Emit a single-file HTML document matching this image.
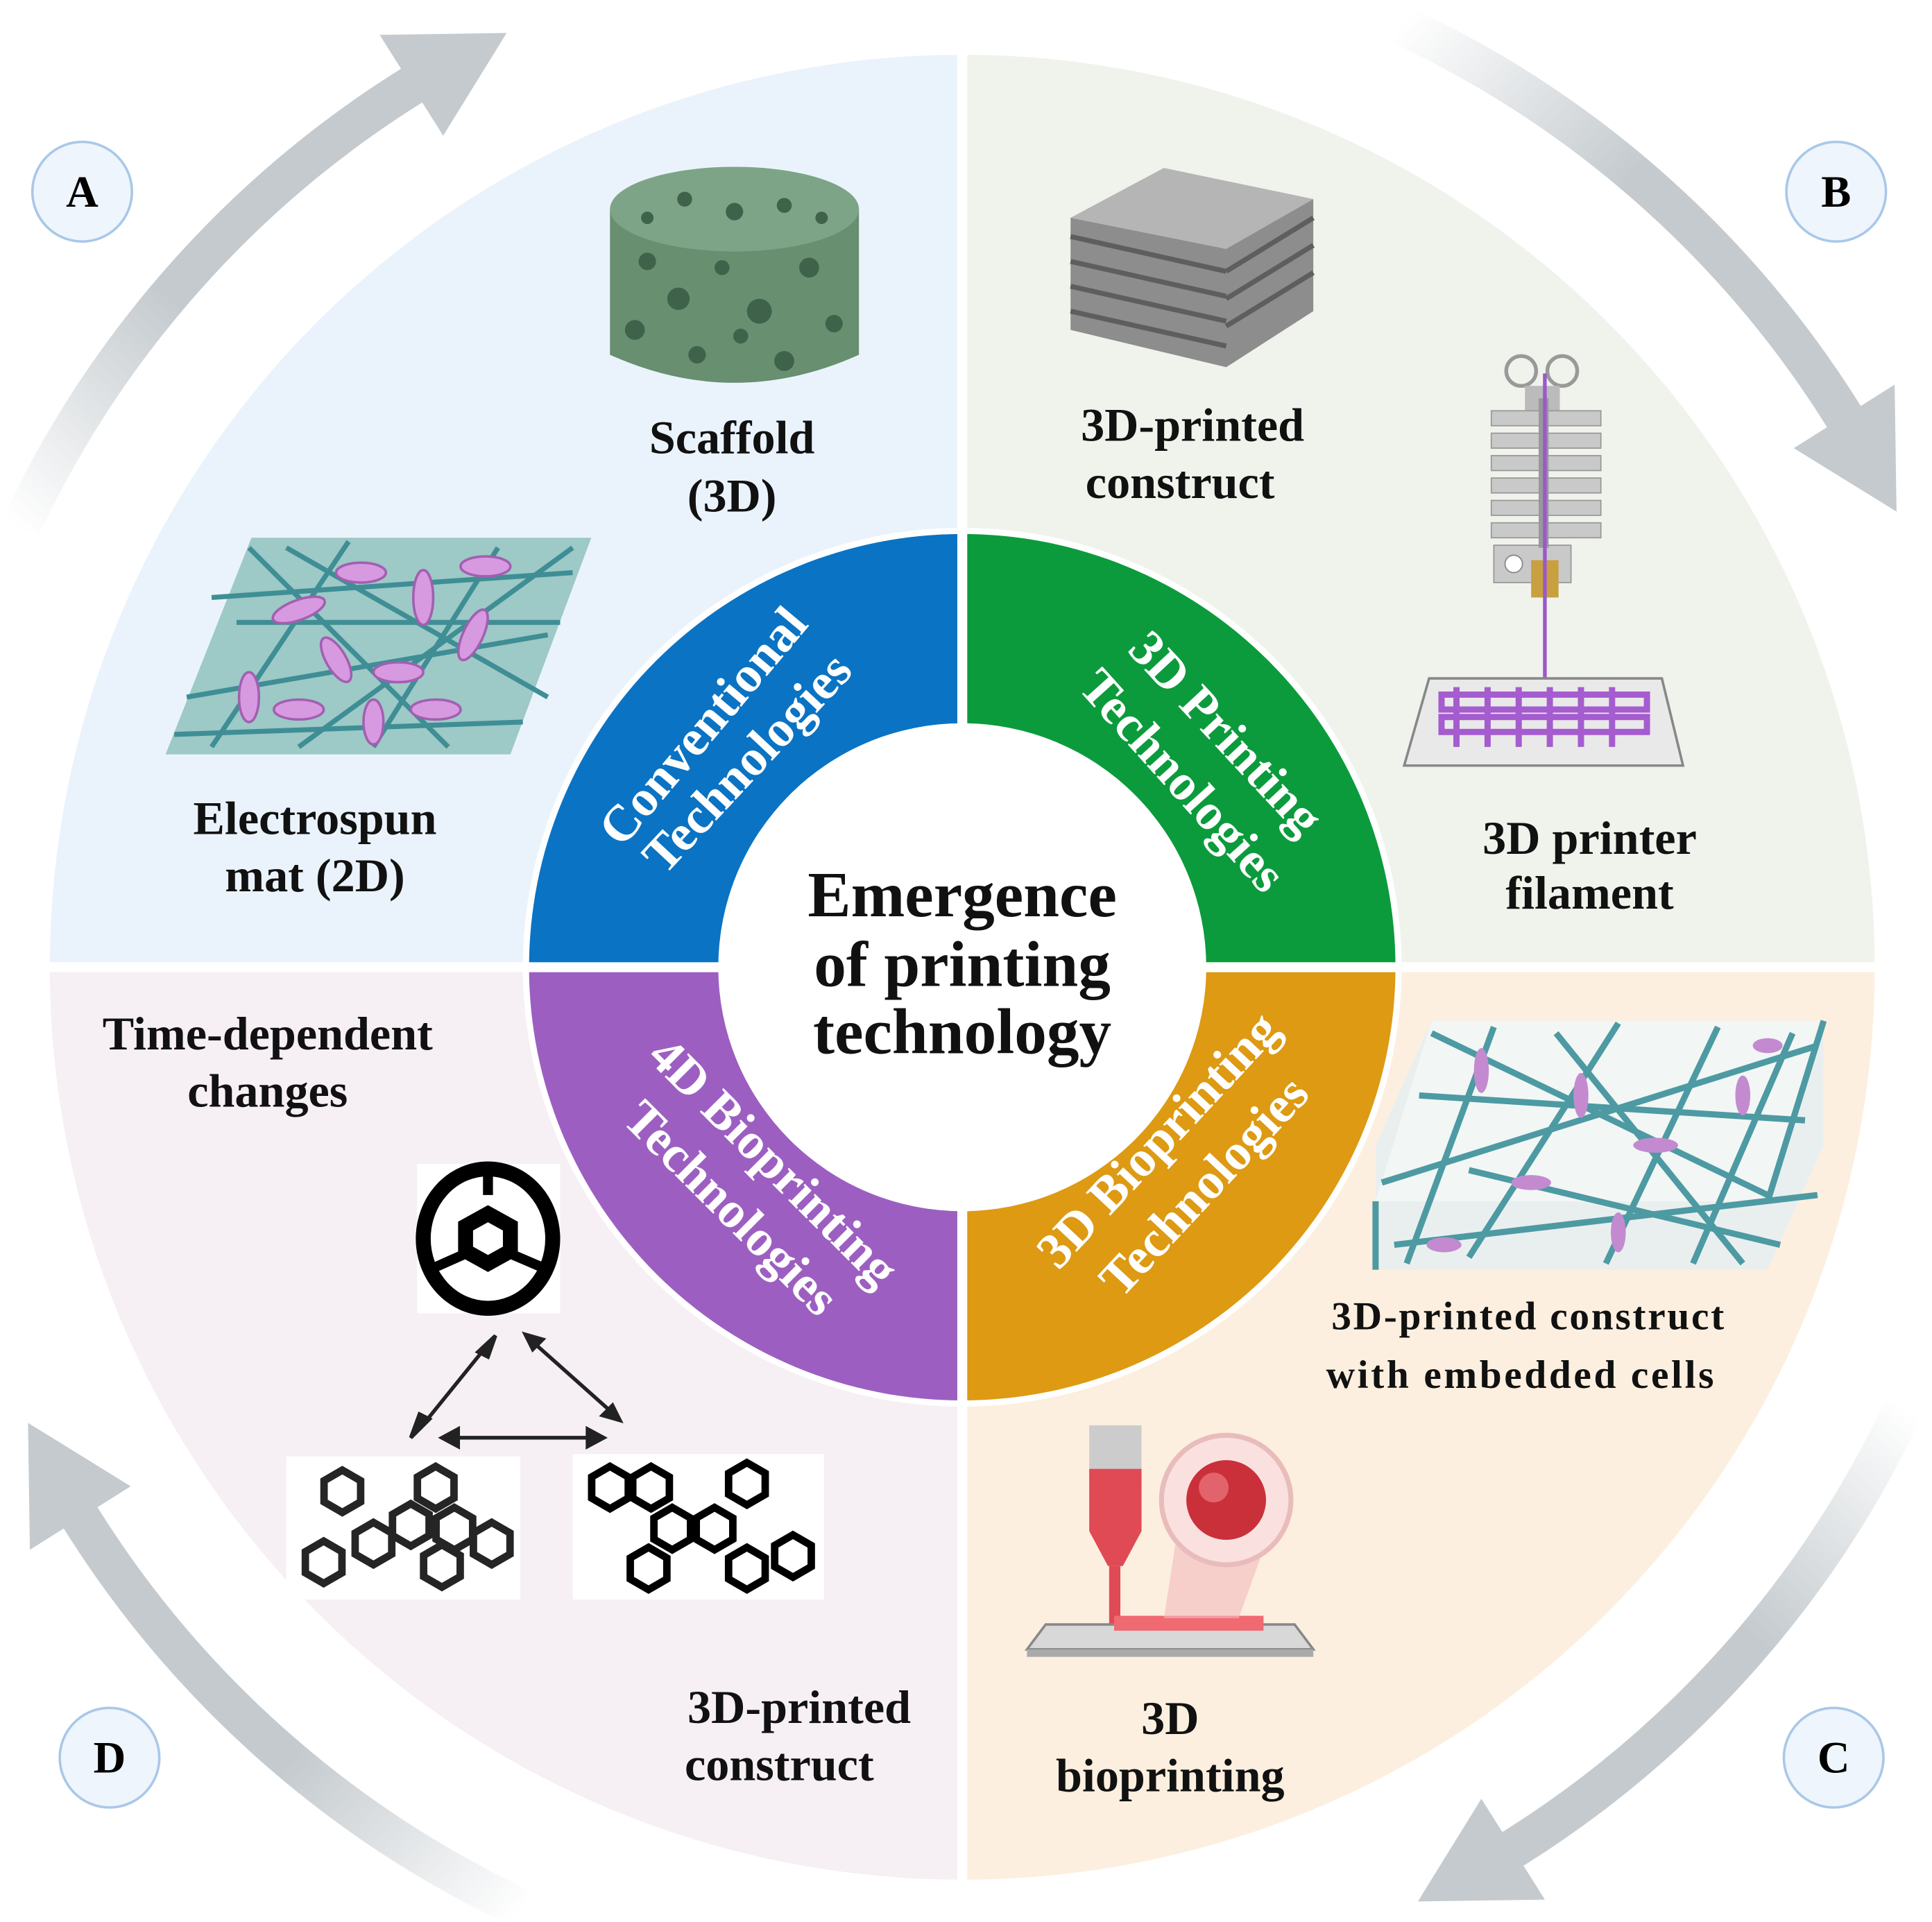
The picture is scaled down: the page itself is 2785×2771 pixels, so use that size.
<!DOCTYPE html>
<html><head><meta charset="utf-8"><style>
html,body{margin:0;padding:0;background:#fff;}
svg{display:block;}
text{font-family:"Liberation Serif",serif;}
.lab{font-weight:bold;font-size:38px;fill:#111;text-anchor:middle;}
.rt{font-size:41px;fill:#fff;text-anchor:middle;}
</style></head><body>
<svg width="2785" height="2771" viewBox="0 0 1552 1544" preserveAspectRatio="none" xmlns="http://www.w3.org/2000/svg">
<defs>
<linearGradient id="ag" gradientUnits="userSpaceOnUse" x1="-756" y1="-352" x2="-430" y2="-716">
<stop offset="0" stop-color="#c4cace" stop-opacity="0"/><stop offset="0.45" stop-color="#c4cace"/><stop offset="1" stop-color="#c4cace"/></linearGradient>
<g id="arr">
<path d="M -756.8 -352.9 A 835 835 0 0 1 -430 -715.8" fill="none" stroke="url(#ag)" stroke-width="32"/>
<polygon points="-417,-668 -468,-749 -366,-750.5" fill="#c4cace"/>
</g>
<polygon id="hx" points="0,-17 14.7,-8.5 14.7,8.5 0,17 -14.7,8.5 -14.7,-8.5" fill="none" stroke="#000" stroke-width="6"/>
</defs>
<rect width="1552" height="1544" fill="#fff"/>
<g transform="translate(773,777)">
<use href="#arr"/>
<use href="#arr" transform="rotate(90)"/>
<use href="#arr" transform="rotate(180)"/>
<use href="#arr" transform="rotate(270)"/>
</g>
<path d="M773 777 L40 777 A733 733 0 0 1 773 44 Z" fill="#eaf3fb"/>
<path d="M773 777 L773 44 A733 733 0 0 1 1506 777 Z" fill="#eff3ec"/>
<path d="M773 777 L1506 777 A733 733 0 0 1 773 1510 Z" fill="#fdefdf"/>
<path d="M773 777 L773 1510 A733 733 0 0 1 40 777 Z" fill="#f6eff4"/>
<circle cx="773" cy="777" r="353" fill="#fff"/>
<path d="M773 777 L425 777 A348 348 0 0 1 773 429 Z" fill="#0a73c4"/>
<path d="M773 777 L773 429 A348 348 0 0 1 1121 777 Z" fill="#0b9b3c"/>
<path d="M773 777 L1121 777 A348 348 0 0 1 773 1125 Z" fill="#dd9a12"/>
<path d="M773 777 L773 1125 A348 348 0 0 1 425 777 Z" fill="#9c5fc1"/>
<circle cx="773" cy="777" r="196" fill="#fff"/>
<rect x="769" y="40" width="8" height="1475" fill="#fff"/>
<rect x="36" y="773" width="1475" height="8" fill="#fff"/>
<circle cx="773" cy="777" r="190" fill="#fff"/>
<g style="font-weight:bold">
<text class="rt" transform="translate(575,592) rotate(-50)">Conventional</text>
<text class="rt" transform="translate(610,622) rotate(-47)">Technologies</text>
<text class="rt" transform="translate(975,598) rotate(47)">3D Printing</text>
<text class="rt" transform="translate(940,636) rotate(48)">Technologies</text>
<text class="rt" transform="translate(612,943) rotate(45)">4D Bioprinting</text>
<text class="rt" transform="translate(578,980) rotate(45)">Technologies</text>
<text class="rt" transform="translate(940,925) rotate(-47)">3D Bioprinting</text>
<text class="rt" transform="translate(977,962) rotate(-47)">Technologies</text>
</g>
<text x="773" y="736" style="font-weight:bold;font-size:52px;text-anchor:middle;fill:#111">Emergence</text>
<text x="773" y="792" style="font-weight:bold;font-size:52px;text-anchor:middle;fill:#111">of printing</text>
<text x="773" y="846" style="font-weight:bold;font-size:52px;text-anchor:middle;fill:#111">technology</text>
<g style="font-weight:bold;font-size:36px;text-anchor:middle">
<circle cx="66" cy="154" r="40" fill="#eef5fc" stroke="#a9c8e8" stroke-width="2"/><text x="66" y="166">A</text>
<circle cx="1475" cy="154" r="40" fill="#eef5fc" stroke="#a9c8e8" stroke-width="2"/><text x="1475" y="166">B</text>
<circle cx="1473" cy="1412" r="40" fill="#eef5fc" stroke="#a9c8e8" stroke-width="2"/><text x="1473" y="1424">C</text>
<circle cx="88" cy="1412" r="40" fill="#eef5fc" stroke="#a9c8e8" stroke-width="2"/><text x="88" y="1424">D</text>
</g>
<path d="M490 168 L490 285 Q590 330 690 285 L690 168 Z" fill="#678f70"/>
<ellipse cx="590" cy="168" rx="100" ry="34" fill="#7ea487"/>
<g fill="#3f634a">
<circle cx="520" cy="210" r="7"/><circle cx="545" cy="240" r="9"/><circle cx="580" cy="215" r="6"/><circle cx="610" cy="250" r="10"/><circle cx="650" cy="215" r="8"/><circle cx="670" cy="260" r="7"/><circle cx="510" cy="265" r="8"/><circle cx="560" cy="285" r="7"/><circle cx="630" cy="290" r="8"/><circle cx="590" cy="170" r="7"/><circle cx="550" cy="160" r="6"/><circle cx="630" cy="165" r="6"/><circle cx="520" cy="175" r="5"/><circle cx="660" cy="175" r="5"/><circle cx="595" cy="270" r="6"/>
</g>
<polygon points="860,175 935,135 1055,160 1055,250 985,295 860,265" fill="#8d8d8d"/>
<polygon points="860,175 935,135 1055,160 985,200" fill="#b5b5b5"/>
<g stroke="#5e5e5e" stroke-width="4">
<line x1="860" y1="190" x2="985" y2="218"/><line x1="860" y1="210" x2="985" y2="238"/><line x1="860" y1="230" x2="985" y2="258"/><line x1="860" y1="250" x2="985" y2="278"/>
<line x1="985" y1="218" x2="1055" y2="175"/><line x1="985" y1="240" x2="1055" y2="197"/><line x1="985" y1="262" x2="1055" y2="219"/>
</g>
<circle cx="1222" cy="298" r="12" fill="none" stroke="#999" stroke-width="3"/><circle cx="1255" cy="298" r="12" fill="none" stroke="#999" stroke-width="3"/>
<rect x="1225" y="310" width="28" height="20" fill="#bbb"/>
<g fill="#c9c9c9" stroke="#999" stroke-width="1">
<rect x="1198" y="330" width="88" height="12"/><rect x="1198" y="348" width="88" height="12"/><rect x="1198" y="366" width="88" height="12"/><rect x="1198" y="384" width="88" height="12"/><rect x="1198" y="402" width="88" height="12"/><rect x="1198" y="420" width="88" height="12"/>
<rect x="1200" y="438" width="62" height="30"/>
</g>
<rect x="1236" y="320" width="8" height="120" fill="#999"/>
<circle cx="1216" cy="453" r="7" fill="#fff" stroke="#888"/>
<rect x="1230" y="450" width="22" height="30" fill="#c8a040"/>
<line x1="1241" y1="300" x2="1241" y2="545" stroke="#9b59c6" stroke-width="3"/>
<polygon points="1148,545 1335,545 1352,615 1128,615" fill="#e9e9e9" stroke="#888" stroke-width="2"/>
<g fill="none" stroke="#a55ccf" stroke-width="5">
<rect x="1158" y="558" width="165" height="12"/><rect x="1158" y="576" width="165" height="12"/>
<path d="M1170 552 v48 M1195 552 v48 M1220 552 v48 M1245 552 v48 M1270 552 v48 M1295 552 v48"/>
</g>
<polygon points="202,432 475,432 410,606 133,606" fill="#9dc9c6"/>
<g stroke="#3f8e95" stroke-width="4">
<line x1="170" y1="480" x2="460" y2="460"/><line x1="150" y1="560" x2="440" y2="510"/><line x1="200" y1="440" x2="360" y2="600"/><line x1="280" y1="435" x2="170" y2="600"/><line x1="400" y1="440" x2="300" y2="600"/><line x1="140" y1="590" x2="420" y2="580"/><line x1="230" y1="440" x2="440" y2="560"/><line x1="460" y1="440" x2="240" y2="600"/><line x1="190" y1="500" x2="450" y2="500"/>
</g>
<g fill="#d79ae0" stroke="#a25fb0" stroke-width="2">
<ellipse cx="240" cy="490" rx="22" ry="8" transform="rotate(-20 240 490)"/><ellipse cx="290" cy="460" rx="20" ry="8"/><ellipse cx="340" cy="480" rx="8" ry="22"/><ellipse cx="390" cy="455" rx="20" ry="8"/><ellipse cx="270" cy="530" rx="8" ry="20" transform="rotate(-30 270 530)"/><ellipse cx="320" cy="540" rx="20" ry="8"/><ellipse cx="380" cy="510" rx="8" ry="22" transform="rotate(25 380 510)"/><ellipse cx="200" cy="560" rx="8" ry="20"/><ellipse cx="240" cy="570" rx="20" ry="8"/><ellipse cx="300" cy="580" rx="8" ry="18"/><ellipse cx="350" cy="570" rx="20" ry="8"/>
</g>
<polygon points="1150,820 1465,820 1465,920 1420,1020 1105,1020 1105,920" fill="#e9efef"/>
<polygon points="1150,820 1465,820 1420,965 1105,965" fill="#f2f6f5"/>
<g stroke="#4d9aa3" stroke-width="5">
<line x1="1150" y1="830" x2="1420" y2="960"/><line x1="1200" y1="825" x2="1130" y2="1015"/><line x1="1300" y1="822" x2="1180" y2="1010"/><line x1="1110" y1="950" x2="1460" y2="840"/><line x1="1140" y1="880" x2="1450" y2="900"/><line x1="1380" y1="825" x2="1290" y2="1015"/><line x1="1250" y1="830" x2="1400" y2="1015"/><line x1="1120" y1="1000" x2="1460" y2="960"/><line x1="1440" y1="830" x2="1360" y2="1015"/><line x1="1180" y1="940" x2="1430" y2="1000"/><line x1="1420" y1="965" x2="1465" y2="820"/><line x1="1105" y1="965" x2="1105" y2="1020"/>
</g>
<g fill="#c48ad0"><ellipse cx="1190" cy="860" rx="6" ry="18"/><ellipse cx="1270" cy="880" rx="6" ry="18"/><ellipse cx="1330" cy="920" rx="18" ry="6"/><ellipse cx="1400" cy="880" rx="6" ry="16"/><ellipse cx="1230" cy="950" rx="16" ry="6"/><ellipse cx="1300" cy="990" rx="6" ry="16"/><ellipse cx="1160" cy="1000" rx="14" ry="6"/><ellipse cx="1420" cy="840" rx="12" ry="6"/></g>
<rect x="875" y="1145" width="42" height="45" fill="#ccc"/>
<rect x="875" y="1180" width="42" height="50" fill="#e04a55"/>
<polygon points="875,1230 917,1230 902,1258 890,1258" fill="#e04a55"/>
<rect x="891" y="1258" width="9" height="55" fill="#e04a55"/>
<polygon points="825,1325 1055,1325 1040,1305 840,1305" fill="#d8d8d8" stroke="#888" stroke-width="2"/>
<rect x="825" y="1325" width="230" height="6" fill="#aaa"/>
<rect x="895" y="1298" width="120" height="12" fill="#f06a72"/>
<polygon points="945,1235 1015,1245 995,1300 935,1300" fill="#f4b9bc" opacity="0.6"/>
<circle cx="985" cy="1205" r="52" fill="#fbe0e0" stroke="#e9bcbc" stroke-width="4"/>
<circle cx="985" cy="1205" r="32" fill="#c9303a"/>
<circle cx="975" cy="1195" r="12" fill="#e2636b"/>
<rect x="335" y="935" width="115" height="120" fill="#fff"/>
<ellipse cx="392" cy="995" rx="52" ry="56" fill="none" stroke="#000" stroke-width="12"/>
<polygon points="392,975 410,985 410,1005 392,1015 374,1005 374,985" fill="#fff" stroke="#000" stroke-width="12"/>
<line x1="392" y1="940" x2="392" y2="960" stroke="#000" stroke-width="8"/><line x1="345" y1="1020" x2="372" y2="1008" stroke="#000" stroke-width="8"/><line x1="440" y1="1020" x2="412" y2="1008" stroke="#000" stroke-width="8"/>
<rect x="230" y="1170" width="188" height="115" fill="#fff"/>
<g opacity="0.85"><use href="#hx" x="350" y="1195"/><use href="#hx" x="330" y="1225"/><use href="#hx" x="365" y="1228"/><use href="#hx" x="300" y="1240"/><use href="#hx" x="355" y="1258"/><use href="#hx" x="275" y="1198"/><use href="#hx" x="260" y="1255"/><use href="#hx" x="395" y="1240"/></g>
<rect x="460" y="1168" width="202" height="117" fill="#fff"/>
<use href="#hx" x="490" y="1195"/><use href="#hx" x="523" y="1195"/><use href="#hx" x="600" y="1192"/><use href="#hx" x="540" y="1228"/><use href="#hx" x="574" y="1228"/><use href="#hx" x="521" y="1260"/><use href="#hx" x="600" y="1260"/><use href="#hx" x="637" y="1250"/>
<g stroke="#222" stroke-width="3" fill="#222">
<line x1="337" y1="1148" x2="392" y2="1080"/><polygon points="330,1155 345,1140 337,1136"/><polygon points="398,1073 384,1086 392,1090"/>
<line x1="428" y1="1078" x2="492" y2="1135"/><polygon points="422,1072 436,1076 428,1084"/><polygon points="498,1141 484,1137 492,1129"/>
<line x1="362" y1="1155" x2="478" y2="1155"/><polygon points="355,1155 368,1148 368,1162"/><polygon points="485,1155 472,1148 472,1162"/>
</g>
<text class="lab" x="588" y="364">Scaffold</text>
<text class="lab" x="588" y="411">(3D)</text>
<text class="lab" x="958" y="354">3D-printed</text>
<text class="lab" x="948" y="400">construct</text>
<text class="lab" x="253" y="670">Electrospun</text>
<text class="lab" x="253" y="716">mat (2D)</text>
<text class="lab" x="1277" y="686">3D printer</text>
<text class="lab" x="1277" y="730">filament</text>
<text class="lab" x="215" y="843">Time-dependent</text>
<text class="lab" x="215" y="889">changes</text>
<text class="lab" x="1228" y="1068" style="font-size:32px;letter-spacing:1.5px">3D-printed construct</text>
<text class="lab" x="1222" y="1115" style="font-size:32px;letter-spacing:2px">with embedded cells</text>
<text class="lab" x="940" y="1393">3D</text>
<text class="lab" x="940" y="1439">bioprinting</text>
<text class="lab" x="642" y="1384">3D-printed</text>
<text class="lab" x="626" y="1430">construct</text>
</svg>
</body></html>
